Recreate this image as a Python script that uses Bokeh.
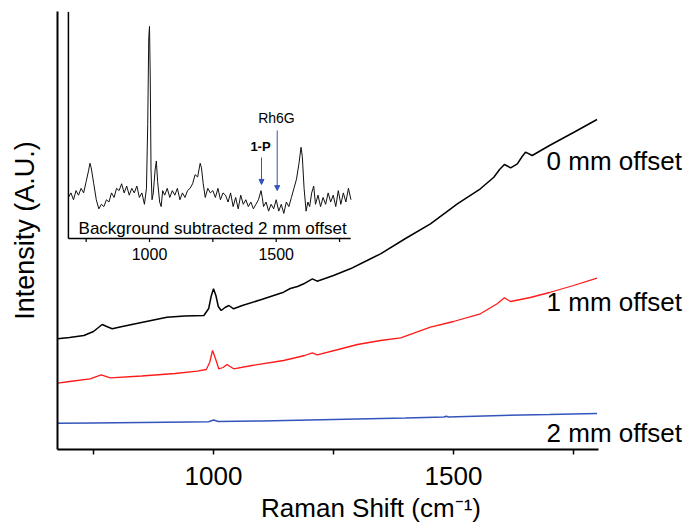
from bokeh.plotting import figure
from bokeh.models import Range1d, FixedTicker, Label, Arrow, NormalHead
from bokeh.embed import file_html
from bokeh.resources import INLINE
from bokeh.core.properties import value

FONT = "Liberation Sans"
BLUE = "#3355bb"

# ---- main spectra (arbitrary intensity units) ----
x0 = [675, 700, 730, 750, 768, 780, 789, 810, 850, 903, 940, 980, 990, 995, 1000, 1005, 1010, 1016,
      1024, 1032, 1042, 1060, 1100, 1146, 1160, 1175, 1188, 1206, 1216, 1250, 1285, 1320, 1348, 1400,
      1452, 1508, 1556, 1584, 1596, 1606, 1619, 1633, 1643, 1650, 1664, 1700, 1750, 1799]
y0 = [1107, 1120, 1140, 1180, 1250, 1225, 1207, 1230, 1270, 1323, 1335, 1340, 1410, 1530, 1607, 1540, 1430, 1390,
      1420, 1440, 1407, 1440, 1500, 1573, 1610, 1630, 1657, 1707, 1683, 1740, 1807, 1890, 1957, 2110,
      2257, 2457, 2607, 2723, 2800, 2850, 2817, 2857, 2930, 2973, 2940, 3040, 3170, 3300]

x1 = [675, 700, 743, 766, 785, 850, 920, 966, 985, 992, 998, 1004, 1011, 1020, 1028, 1042, 1080, 1146,
      1190, 1206, 1216, 1260, 1300, 1348, 1390, 1452, 1500, 1556, 1591, 1606, 1619, 1660, 1700, 1750, 1799]
y1 = [663, 680, 707, 747, 717, 735, 760, 783, 800, 870, 990, 910, 807, 820, 850, 807, 840, 890,
      940, 967, 947, 1000, 1050, 1090, 1117, 1223, 1280, 1357, 1457, 1517, 1480, 1520, 1570, 1640, 1713]

x2 = [675, 750, 850, 950, 990, 1000, 1010, 1100, 1200, 1300, 1400, 1480, 1485, 1490, 1600, 1700, 1799]
y2 = [263, 265, 270, 275, 277, 295, 280, 285, 295, 305, 315, 325, 333, 325, 340, 350, 360]

labels = ["0 mm offset", "1 mm offset", "2 mm offset"]
label_y = [2890, 1480, 170]
label_x = 1694

x_ticks_major = [1000, 1500]
x_ticks_minor = [750, 1250, 1750]

# ---- inset: background subtracted 2 mm offset ----
ix = [680, 690, 700, 710, 720, 730, 740, 750, 760, 765, 770, 780, 790, 800, 810, 820, 830, 840, 850, 860,
      870, 880, 890, 900, 910, 920, 930, 940, 950, 960, 970, 980, 988, 993, 997, 1000, 1003, 1006, 1010,
      1015, 1022, 1027, 1032, 1040, 1046, 1052, 1060, 1070, 1080, 1090, 1100, 1110, 1120, 1130, 1140,
      1150, 1160, 1170, 1180, 1190, 1200, 1205, 1212, 1220, 1230, 1240, 1250, 1260, 1270, 1280, 1290,
      1300, 1310, 1320, 1330, 1340, 1350, 1360, 1370, 1380, 1390, 1400, 1410, 1420, 1430, 1440, 1445,
      1450, 1460, 1470, 1480, 1490, 1500, 1510, 1520, 1530, 1540, 1550, 1560, 1570, 1580, 1590, 1598,
      1603, 1610, 1618, 1625, 1632, 1640, 1648, 1655, 1665, 1675, 1685, 1695, 1705, 1715, 1725, 1735,
      1745, 1755, 1765, 1775, 1785, 1795]
iv = [18, 20, 17, 21, 19, 22, 20, 25, 30, 33, 31, 24, 17, 13, 15, 14, 17, 16, 20, 18,
      22, 21, 24, 20, 23, 19, 22, 20, 23, 18, 20, 15, 22, 50, 88, 93, 70, 30, 17,
      20, 30, 34, 25, 16, 14, 21, 19, 22, 18, 21, 19, 22, 17, 20, 18,
      21, 22, 24, 28, 27, 33, 31, 24, 18, 22, 20, 21, 18, 22, 17, 20,
      19, 16, 20, 14, 18, 13, 19, 15, 17, 14, 16, 13, 15, 17, 21, 18,
      14, 16, 12, 15, 13, 17, 12, 15, 11, 16, 14, 18, 22, 26, 33, 40,
      36, 22, 12, 16, 14, 20, 23, 15, 19, 14, 18, 15, 20, 16, 19, 14,
      21, 15, 20, 16, 22, 17]

inset_ticks_major = [1000, 1500]
inset_ticks_minor = [750, 1250, 1750]
inset_axis_x = [680, 1794]
inset_axis_top = 99.5

p = figure(width=684, height=525, output_backend="svg", toolbar_location=None,
           x_range=Range1d(675, 1981.25), y_range=Range1d(0, 4380),
           min_border_left=57, min_border_right=0, min_border_top=11, min_border_bottom=76)
p.extra_x_ranges = {"ix": Range1d(636.9, 3111.3)}
p.extra_y_ranges = {"iy": Range1d(-92.54, 99.56)}

p.outline_line_color = None
p.xgrid.visible = False
p.ygrid.visible = False
p.background_fill_color = "white"
p.border_fill_color = "white"

# main lines
p.line(x0, y0, color="black", line_width=1.5)
p.line(x1, y1, color="#ff1a1a", line_width=1.3)
p.line(x2, y2, color=BLUE, line_width=1.5)

for t, yy in zip(labels, label_y):
    p.add_layout(Label(x=label_x, y=yy, text=t, text_baseline="middle", text_align="left",
                       text_font=FONT, text_font_size="26px", text_color="black"))

# axes
xa = p.xaxis[0]
xa.bounds = (675, 1802)
xa.ticker = FixedTicker(ticks=x_ticks_major, minor_ticks=x_ticks_minor)
xa.axis_line_width = 2
xa.axis_line_color = "black"
xa.major_tick_out = 5
xa.major_tick_in = 0
xa.minor_tick_out = 5
xa.minor_tick_in = 0
xa.major_tick_line_width = 1.5
xa.minor_tick_line_width = 1.5
xa.major_tick_line_color = "black"
xa.minor_tick_line_color = "black"
xa.major_label_text_font = FONT
xa.major_label_text_font_size = "26px"
xa.major_label_text_color = "black"
xa.major_label_standoff = 12
xa.axis_label = "Raman Shift (cm\u207b\u00b9)"
xa.axis_label_text_font = FONT
xa.axis_label_text_font_size = "26px"
xa.axis_label_text_font_style = "normal"
xa.axis_label_text_color = "black"
xa.axis_label_standoff = 5

ya = p.yaxis[0]
ya.ticker = FixedTicker(ticks=[])
ya.axis_line_width = 2
ya.axis_line_color = "black"
ya.major_tick_out = 0
ya.major_tick_in = 0
ya.minor_tick_out = 0
ya.minor_tick_in = 0
ya.major_label_text_font_size = "0px"
ya.major_label_standoff = 0
ya.axis_label = "Intensity (A.U.)"
ya.axis_label_text_font = FONT
ya.axis_label_text_font_size = "27px"
ya.axis_label_text_font_style = "normal"
ya.axis_label_text_color = "black"
ya.axis_label_standoff = 18

# inset
kw = dict(x_range_name="ix", y_range_name="iy")
p.line(ix, iv, color="#111111", line_width=1, **kw)
p.segment(x0=[inset_axis_x[0], inset_axis_x[0]], y0=[0, 0],
          x1=[inset_axis_x[1], inset_axis_x[0]], y1=[0, inset_axis_top],
          color="black", line_width=1.5, **kw)
ticks_all = inset_ticks_major + inset_ticks_minor
p.segment(x0=ticks_all, y0=[0] * len(ticks_all), x1=ticks_all, y1=[-1.5] * len(ticks_all),
          color="black", line_width=1.2, **kw)
p.text(x=inset_ticks_major, y=[-7] * 2, text=[str(t) for t in inset_ticks_major],
       text_align="center", text_baseline="middle", text_font=value(FONT),
       text_font_size="16px", text_color="black", **kw)
p.text(x=[720], y=[4.4], text=["Background subtracted 2 mm offset"], text_align="left",
       text_baseline="middle", text_font=value(FONT), text_font_size="17px", text_color="black", **kw)
p.text(x=[1501], y=[53], text=["Rh6G"], text_align="center", text_baseline="middle",
       text_font=value(FONT), text_font_size="14px", text_color="black", **kw)
p.text(x=[1438], y=[40.4], text=["1-P"], text_align="center", text_baseline="middle",
       text_font=value(FONT), text_font_size="13px", text_font_style="bold", text_color="black", **kw)

arrow_x = [1442, 1504]
arrow_y0 = [35.5, 47.4]
arrow_y1 = [23.7, 21.0]
for ax_, a0, a1 in zip(arrow_x, arrow_y0, arrow_y1):
    p.add_layout(Arrow(end=NormalHead(size=5, fill_color=BLUE, line_color=BLUE, line_width=1),
                       x_start=ax_, y_start=a0, x_end=ax_, y_end=a1,
                       line_color=BLUE, line_width=1, **kw))

open("out.html", "w").write(file_html(p, INLINE))
